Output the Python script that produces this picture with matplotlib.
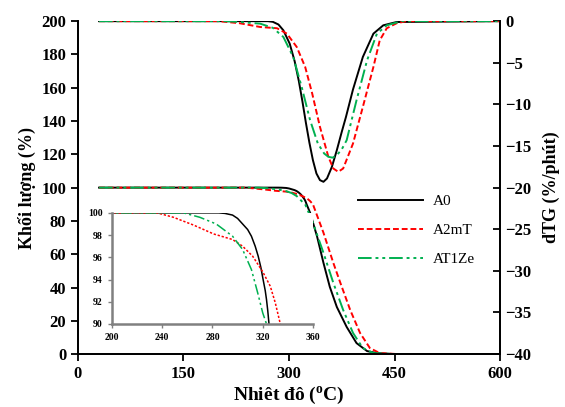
import matplotlib
matplotlib.use("Agg")
import matplotlib.pyplot as plt

plt.rcParams['font.family'] = ['Liberation Serif', 'DejaVu Serif']
plt.rcParams['mathtext.default'] = 'regular'

# TG (% mass) vs temperature
t_a0 = [30, 285, 290, 296, 300, 304, 308, 311, 314, 316.4, 318.5, 320.3, 322, 323, 324, 325,
        330, 340, 349, 358, 368, 382, 396, 411, 425, 450, 600]
tg_a0 = [100, 100, 99.95, 99.8, 99.5, 99.0, 98.5, 97.9, 97.0, 96.1, 95.1, 94.0, 93.0, 92.2, 91.2, 90.0,
         84.9, 70.5, 54.8, 40.4, 28.3, 16.3, 6.6, 1.8, 0.6, 0, 0]

t_a2mt = [30, 236, 249, 265, 281, 296, 304, 312, 320, 326, 330, 334, 349, 363, 373, 387, 401, 415, 429, 455, 600]
tg_a2mt = [100, 100, 99.6, 98.9, 98.1, 97.6, 97.0, 96.1, 94.7, 93.4, 91.9, 90.0, 72.9, 54.8, 42.8, 26.5, 12.7, 3.6, 0.6, 0, 0]

t_at1ze = [30, 257, 270, 283, 296, 304, 311, 316, 320, 323, 334, 349, 363, 377, 391, 405, 420, 450, 600]
tg_at1ze = [100, 100, 99.6, 99.0, 97.9, 96.7, 94.9, 92.8, 91.0, 90.0, 78.9, 60.8, 42.8, 26.5, 12.7, 3.6, 0.6, 0, 0]

# dTG (%/min) vs temperature
td_a0 = [30, 270, 277, 285, 292, 301, 308, 314, 319, 324, 329, 334, 339, 344, 349, 354, 361, 368, 375,
         381, 391, 405, 420, 434, 453, 600]
dtg_a0 = [0, 0, -0.08, -0.4, -1.1, -2.7, -4.8, -7.2, -9.6, -12.2, -14.6, -16.7, -18.3, -19.1, -19.3, -18.9,
          -17.5, -15.5, -13.3, -11.5, -8.2, -4.3, -1.5, -0.5, -0.1, 0]

td_a2mt = [30, 200, 230, 259, 283, 297, 311, 323, 333, 344, 356, 363, 370, 377, 391, 405, 420, 429, 439, 453, 467, 600]
dtg_a2mt = [0, 0, -0.25, -0.7, -0.85, -1.5, -3.1, -5.5, -8.7, -12.7, -16.3, -17.7, -18.1, -17.7, -14.7,
            -10.3, -5.5, -2.3, -0.85, -0.25, 0, 0]

td_at1ze = [30, 210, 230, 259, 277, 292, 306, 318, 330, 341, 350, 356, 362, 368, 375, 382, 396, 411, 425, 439, 460, 600]
dtg_at1ze = [0, 0, -0.1, -0.3, -0.8, -1.9, -4.3, -7.9, -11.9, -14.7, -15.9, -16.3, -16.4, -16.1, -15.4,
             -14.3, -9.5, -4.7, -1.5, -0.5, 0, 0]

labels = ["A0", "A2mT", "AT1Ze"]
colors = ["black", "#ff0000", "#00b050"]
styles = ["-", (0, (3, 1.5)), (0, (7, 2, 1.5, 2, 1.5, 2))]

fig = plt.figure(figsize=(5.65, 4.07), dpi=100)
ax = fig.add_axes([0.138, 0.130, 0.747, 0.818])
ax2 = ax.twinx()

tg = [(t_a0, tg_a0), (t_a2mt, tg_a2mt), (t_at1ze, tg_at1ze)]
dtg = [(td_a0, dtg_a0), (td_a2mt, dtg_a2mt), (td_at1ze, dtg_at1ze)]

handles = []
for (t, m), (td, d), lab, c, ls in zip(tg, dtg, labels, colors, styles):
    h, = ax.plot(t, m, color=c, ls=ls, lw=1.4, label=lab)
    ax2.plot(td, d, color=c, ls=ls, lw=1.4)
    handles.append(h)

ax.set_xlim(0, 600)
ax.set_ylim(0, 200)
ax.set_xticks([0, 150, 300, 450, 600])
ax.set_yticks(range(0, 201, 20))
ax2.set_ylim(-40, 0)
ax2.set_yticks(range(-40, 1, 5))

for a in (ax, ax2):
    a.spines['top'].set_visible(False)
    for s in a.spines.values():
        s.set_linewidth(1.3)
    a.tick_params(labelsize=12, width=1.3, length=5)
    for lbl in a.get_xticklabels() + a.get_yticklabels():
        lbl.set_fontweight('bold')
ax2.tick_params(axis='y', direction='in')

ax.set_xlabel("Nhiêt đô ($^{o}$C)", fontsize=14, fontweight='bold', labelpad=2)
ax.set_ylabel("Khối lượng (%)", fontsize=13, fontweight='bold', labelpad=4)
ax2.set_ylabel("dTG (%/phút)", fontsize=13, fontweight='bold', labelpad=8)

ax.legend(handles=handles, loc='upper left', bbox_to_anchor=(0.63, 0.52),
          frameon=False, fontsize=11, handlelength=4.3, labelspacing=1.0,
          handletextpad=0.6)

# zoomed view of the onset region
ins = fig.add_axes([0.198, 0.204, 0.356, 0.273])
for (t, m), c, ls in zip(tg, colors, [styles[0], (0, (1.5, 1.2)), styles[2]]):
    ins.plot(t, m, color=c, ls=ls, lw=1.1)
ins.set_xlim(200, 360)
ins.set_ylim(90, 100)
ins.set_xticks(range(200, 361, 40))
ins.set_yticks(range(90, 101, 2))
ins.spines['top'].set_visible(False)
ins.spines['right'].set_visible(False)
for s in ('left', 'bottom'):
    ins.spines[s].set_color('#808080')
    ins.spines[s].set_linewidth(1.8)
ins.tick_params(labelsize=7, length=3, width=1, color='#808080')
for lbl in ins.get_xticklabels() + ins.get_yticklabels():
    lbl.set_fontweight('bold')

fig.savefig("out.png", dpi=100)
